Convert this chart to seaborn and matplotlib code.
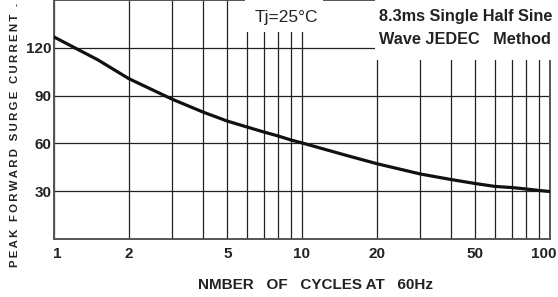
import matplotlib
matplotlib.use("Agg")
import matplotlib.pyplot as plt
import seaborn as sns
import pandas as pd
from matplotlib.patches import Rectangle
from matplotlib.ticker import FixedLocator, NullFormatter
from matplotlib.transforms import ScaledTranslation

# values
cycles = [1, 1.5, 2, 3, 4, 5, 6, 7, 8, 9, 10, 15, 20, 30, 40, 50, 60, 70, 80, 90, 100]
surge_current = [126.8, 112.5, 100.7, 87.7, 79.6, 74, 70.3, 67.2, 64.7, 62.2, 60.3,
                 52.6, 47.3, 40.8, 37.3, 34.8, 33, 32.3, 31.4, 30.5, 29.8]
major_x = [1, 2, 5, 10, 20, 50, 100]
minor_x = [3, 4, 6, 7, 8, 9, 30, 40, 60, 70, 80, 90]
y_ticks = [30, 60, 90, 120]

sns.set_style("white")
plt.rcParams['font.family'] = ['Liberation Sans', 'DejaVu Sans']

df = pd.DataFrame({'cycles': cycles, 'current': surge_current})

fig = plt.figure(figsize=(5.58, 2.97), dpi=100)
ax = fig.add_axes([54 / 558, 1 - 239 / 297, 496 / 558, 239 / 297])
ax.set_axisbelow(True)

sns.lineplot(data=df, x='cycles', y='current', ax=ax, color='#111111', linewidth=2.3, zorder=3)

ax.set_xscale('log')
ax.set_xlim(1, 100)
ax.set_ylim(0, 150)
ax.xaxis.set_major_locator(FixedLocator(major_x))
ax.xaxis.set_minor_locator(FixedLocator(minor_x))
ax.xaxis.set_minor_formatter(NullFormatter())
ax.set_xticklabels([str(v) for v in major_x])
ax.set_yticks(y_ticks)
ax.tick_params(which='both', length=0)
ax.tick_params(axis='x', pad=6)
ax.tick_params(axis='y', pad=2)
for lab in ax.get_xticklabels() + ax.get_yticklabels():
    lab.set_fontsize(11)
    lab.set_fontweight('bold')
    lab.set_color('#222222')
# keep the last label inside the picture
last = ax.get_xticklabels()[-1]
last.set_ha('right')
last.set_transform(last.get_transform() + ScaledTranslation(7 / 100, 0, fig.dpi_scale_trans))
first = ax.get_xticklabels()[0]
first.set_transform(first.get_transform() + ScaledTranslation(3 / 100, 0, fig.dpi_scale_trans))

ax.grid(True, which='both', axis='x', color='#222222', linewidth=0.9)
ax.grid(True, which='major', axis='y', color='#222222', linewidth=0.9)
for sp in ax.spines.values():
    sp.set_color('#555555')
    sp.set_linewidth(1.4)

ax.set_xlabel('')
ax.set_ylabel('')

# white boxes that hide the grid behind the notes
ax.add_patch(Rectangle((0.385, 0.866), 0.157, 0.2, transform=ax.transAxes,
                       facecolor='white', edgecolor='none', zorder=4, clip_on=False))
ax.add_patch(Rectangle((0.647, 0.749), 0.4, 0.3, transform=ax.transAxes,
                       facecolor='white', edgecolor='none', zorder=4, clip_on=False))

ax.text(0.405, 0.925, 'Tj=25°C', transform=ax.transAxes, fontsize=12.5,
        ha='left', va='center', color='#222222', zorder=5)
ax.text(0.655, 0.929, '8.3ms Single Half Sine', transform=ax.transAxes, fontsize=11.7,
        fontweight='bold', ha='left', va='center', color='#222222', zorder=5)
ax.text(0.655, 0.833, 'Wave JEDEC   Method', transform=ax.transAxes, fontsize=11.7,
        fontweight='bold', ha='left', va='center', color='#222222', zorder=5)

fig.text(315 / 558, 1 - 285 / 297, 'NMBER   OF   CYCLES AT   60Hz', fontsize=11,
         fontweight='bold', ha='center', va='center', color='#222222')
fig.text(15 / 558, 1 - 135 / 297, '\u2009'.join('PEAK FORWARD SURGE CURRENT .'), fontsize=8.2,
         fontweight='bold', rotation=90, ha='center', va='center', color='#222222')

fig.savefig('out.png', dpi=100)
